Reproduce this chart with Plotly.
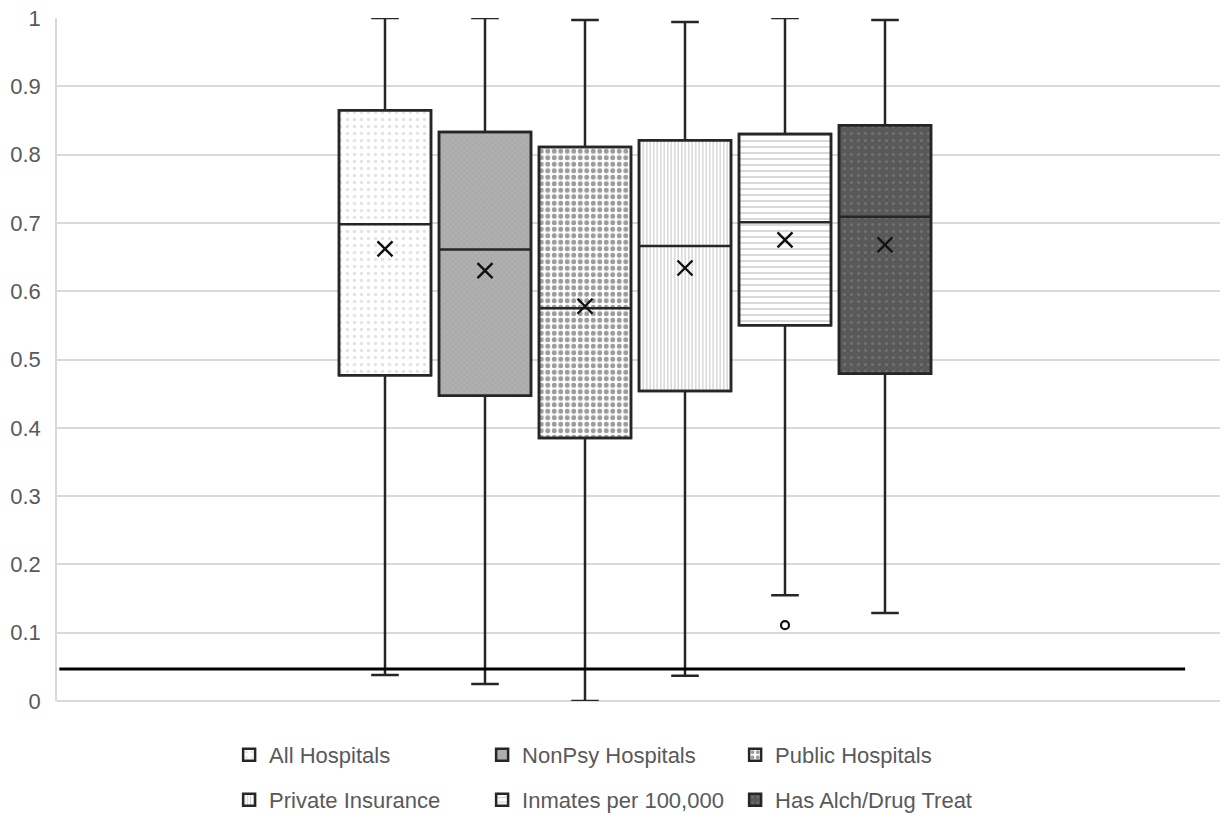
import plotly.graph_objects as go

# ---- data ----
categories = ["All Hospitals", "NonPsy Hospitals", "Public Hospitals",
              "Private Insurance", "Inmates per 100,000", "Has Alch/Drug Treat"]
upper_fence = [1.000, 1.000, 0.997, 0.994, 1.000, 0.997]
q3_values = [0.865, 0.833, 0.811, 0.821, 0.830, 0.843]
median_values = [0.698, 0.661, 0.575, 0.666, 0.701, 0.709]
q1_values = [0.477, 0.447, 0.385, 0.454, 0.550, 0.479]
lower_fence = [0.038, 0.025, 0.000, 0.037, 0.155, 0.129]
mean_values = [0.662, 0.630, 0.578, 0.634, 0.675, 0.668]
outlier_category = ["Inmates per 100,000"]
outlier_values = [0.111]
threshold_value = 0.047
y_ticks = [0, 0.1, 0.2, 0.3, 0.4, 0.5, 0.6, 0.7, 0.8, 0.9, 1]

# ---- styles ----
patterns = [
    dict(shape=".", fgcolor="#c8c8c8", bgcolor="#ffffff", size=7, solidity=0.2),
    dict(shape="x", fgcolor="#9a9a9a", bgcolor="#b0b0b0", size=4, solidity=0.3),
    dict(shape=".", fgcolor="#3a3a3a", bgcolor="#ffffff", size=6.5, solidity=0.45),
    dict(shape="|", fgcolor="#9a9a9a", bgcolor="#ffffff", size=3.5, solidity=0.35),
    dict(shape="-", fgcolor="#b4b4b4", bgcolor="#ffffff", size=6, solidity=0.35),
    dict(shape=".", fgcolor="#8a8a8a", bgcolor="#595959", size=7, solidity=0.15),
]
outline = "#262626"
font_family = "Liberation Sans, Arial, sans-serif"
text_color = "#595959"
box_width = 0.92

fig = go.Figure()

for i, name in enumerate(categories):
    fig.add_trace(go.Bar(
        x=[name], base=[q1_values[i]], y=[q3_values[i] - q1_values[i]],
        width=box_width, name=name,
        marker=dict(color=patterns[i]["bgcolor"], pattern=patterns[i],
                    line=dict(color=outline, width=2.5)),
        legend="legend" if i < 3 else "legend2",
        hoverinfo="skip",
    ))

for i, name in enumerate(categories):
    fig.add_trace(go.Box(
        x=[name], q1=[q1_values[i]], median=[median_values[i]], q3=[q3_values[i]],
        lowerfence=[lower_fence[i]], upperfence=[upper_fence[i]],
        width=box_width, whiskerwidth=0.3,
        fillcolor="rgba(0,0,0,0)", line=dict(color=outline, width=2.5),
        showlegend=False, boxpoints=False,
    ))

fig.add_trace(go.Scatter(
    x=categories, y=mean_values, mode="markers", showlegend=False,
    marker=dict(symbol="x-thin", size=15, line=dict(color="#111111", width=2.4)),
))
fig.add_trace(go.Scatter(
    x=outlier_category, y=outlier_values, mode="markers", showlegend=False,
    marker=dict(symbol="circle-open", size=8, color="#111111", line=dict(width=2.2)),
))

fig.add_shape(type="line", xref="paper", yref="y", x0=0.002, x1=0.970,
              y0=threshold_value, y1=threshold_value,
              line=dict(color="#000000", width=3))

legend_common = dict(
    orientation="h", xanchor="left", yanchor="middle",
    font=dict(family=font_family, size=22, color=text_color),
    entrywidth=208, entrywidthmode="pixels", traceorder="normal",
    bgcolor="rgba(0,0,0,0)",
)

fig.update_layout(
    width=1222, height=815,
    margin=dict(l=57, r=2, t=18, b=114, autoexpand=False),
    paper_bgcolor="white", plot_bgcolor="white",
    font=dict(family=font_family, size=22, color=text_color),
    barmode="overlay", boxmode="overlay",
    showlegend=True,
    legend=dict(x=0.148, y=-0.079, **legend_common),
    legend2=dict(x=0.148, y=-0.145, **legend_common),
    xaxis=dict(type="category", categoryorder="array", categoryarray=categories,
               range=[-3.28, 8.35], showticklabels=False, showgrid=False,
               zeroline=False, showline=False, ticks="", automargin=False),
    yaxis=dict(range=[0, 1], tickvals=y_ticks, ticktext=[f"{v:g}" for v in y_ticks],
               showgrid=True, gridcolor="#d9d9d9", gridwidth=1.5,
               showline=True, linecolor="#d9d9d9", linewidth=1.5,
               zeroline=True, zerolinecolor="#d9d9d9", zerolinewidth=1.5,
               ticks="", ticklabelstandoff=10, automargin=False,
               ticklabeloverflow="allow",
               tickfont=dict(family=font_family, size=22, color=text_color)),
)

# remove the default page margin so the figure fills the window exactly
fig.write_html("out.html",
               config={"displayModeBar": False},
               post_script="document.body.style.margin='0px';"
                           "document.body.style.overflow='hidden';")
